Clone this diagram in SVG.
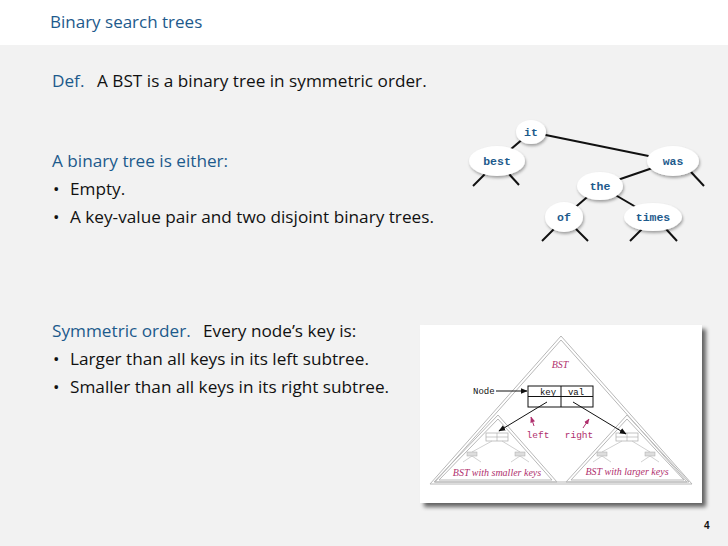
<svg xmlns="http://www.w3.org/2000/svg" width="728" height="546" viewBox="0 0 728 546">
<defs>
<style>
.title{font-family:"Open Sans","Liberation Sans",sans-serif;font-size:17px;fill:#1d5a8c}
.t{font-family:"Open Sans","Liberation Sans",sans-serif;font-size:17.2px;fill:#111}
.b{fill:#1d5a8c}
.key{font-family:"Liberation Mono","DejaVu Sans Mono",monospace;font-size:11.5px;font-weight:bold;fill:#1d5a8c;text-anchor:middle}
.nd{fill:#fff;filter:url(#sh)}
.edge{stroke:#111;stroke-width:2;fill:none}
.mono{font-family:"Liberation Mono","DejaVu Sans Mono",monospace;font-size:9px;fill:#111}
.mag{font-family:"Liberation Mono","DejaVu Sans Mono",monospace;font-size:9.5px;fill:#b0306e;text-anchor:middle}
.it{font-family:"Liberation Serif",serif;font-style:italic;font-size:10px;fill:#b0306e;text-anchor:middle}
.tri{fill:none;stroke:#b8b8b8;stroke-width:1}
.mini{stroke:#c4c4c4;stroke-width:0.8;fill:none}
.minib{fill:#ddd;stroke:#aaa;stroke-width:0.5}
.arr{stroke:#111;stroke-width:1;fill:none;marker-end:url(#ah)}
.marr{stroke:#b0306e;stroke-width:1;fill:none;marker-end:url(#mh)}
</style>
<filter id="sh" x="-30%" y="-30%" width="170%" height="170%">
<feGaussianBlur in="SourceAlpha" stdDeviation="1.5"/>
<feOffset dx="1" dy="2" result="o"/>
<feComponentTransfer><feFuncA type="linear" slope="0.35"/></feComponentTransfer>
<feMerge><feMergeNode/><feMergeNode in="SourceGraphic"/></feMerge>
</filter>
<filter id="psh" x="-5%" y="-5%" width="115%" height="115%">
<feGaussianBlur in="SourceAlpha" stdDeviation="2"/>
<feOffset dx="4" dy="4" result="o"/>
<feComponentTransfer><feFuncA type="linear" slope="0.6"/></feComponentTransfer>
<feMerge><feMergeNode/><feMergeNode in="SourceGraphic"/></feMerge>
</filter>
<marker id="ah" viewBox="0 0 10 10" refX="9" refY="5" markerWidth="7" markerHeight="7" orient="auto"><path d="M0,1 L10,5 L0,9 z" fill="#111"/></marker>
<marker id="mh" viewBox="0 0 10 10" refX="9" refY="5" markerWidth="6" markerHeight="6" orient="auto"><path d="M0,1 L10,5 L0,9 z" fill="#b0306e"/></marker>
</defs>
<rect x="0" y="0" width="728" height="546" fill="#f2f2f2"/>
<rect x="0" y="0" width="728" height="45" fill="#fff"/>
<text class="title" x="50" y="28">Binary search trees</text>

<text class="t" x="52" y="87"><tspan class="b">Def.</tspan><tspan x="97">A BST is a binary tree in symmetric order.</tspan></text>
<text class="t b" x="52" y="167">A binary tree is either:</text>
<text class="t" x="53" y="195">•<tspan x="70">Empty.</tspan></text>
<text class="t" x="53" y="223">•<tspan x="70">A key-value pair and two disjoint binary trees.</tspan></text>
<text class="t" x="52" y="337"><tspan class="b">Symmetric order.</tspan><tspan x="203">Every node’s key is:</tspan></text>
<text class="t" x="53" y="365">•<tspan x="70">Larger than all keys in its left subtree.</tspan></text>
<text class="t" x="53" y="393">•<tspan x="70">Smaller than all keys in its right subtree.</tspan></text>

<g id="connectors">
<line class="edge" x1="531" y1="132" x2="497" y2="161"/>
<line class="edge" x1="531" y1="132" x2="673" y2="161"/>
<line class="edge" x1="673" y1="161" x2="600" y2="186"/>
<line class="edge" x1="600" y1="186" x2="564" y2="217"/>
<line class="edge" x1="600" y1="186" x2="653" y2="217"/>
<line class="edge" x1="485" y1="174" x2="473" y2="186"/>
<line class="edge" x1="509" y1="174" x2="519" y2="185"/>
<line class="edge" x1="691" y1="172" x2="704" y2="186"/>
<line class="edge" x1="554" y1="229" x2="542" y2="241"/>
<line class="edge" x1="576" y1="229" x2="588" y2="241"/>
<line class="edge" x1="642" y1="229" x2="630" y2="241"/>
<line class="edge" x1="666" y1="229" x2="677" y2="241"/>
</g>
<g id="n-it"><ellipse class="nd" cx="531" cy="132" rx="15" ry="12"/><text class="key" x="531" y="136">it</text></g>
<g id="n-best"><ellipse class="nd" cx="497" cy="161" rx="28" ry="15"/><text class="key" x="497" y="165">best</text></g>
<g id="n-was"><ellipse class="nd" cx="673" cy="161" rx="26" ry="15"/><text class="key" x="673" y="165">was</text></g>
<g id="n-the"><ellipse class="nd" cx="600" cy="186" rx="23" ry="14"/><text class="key" x="600" y="190">the</text></g>
<g id="n-of"><ellipse class="nd" cx="564" cy="217" rx="19" ry="15"/><text class="key" x="564" y="221">of</text></g>
<g id="n-times"><ellipse class="nd" cx="653" cy="217" rx="29" ry="14"/><text class="key" x="653" y="221">times</text></g>

<g id="bst-panel">
<rect x="420" y="325" width="282" height="178" fill="#fff" filter="url(#psh)"/>
<path class="tri" d="M561,336 L430,484 L692,484 Z"/>
<path class="tri" d="M561,340 L435,482 L687,482 Z"/>
<path class="tri" d="M498,415 L434,482 L557,482 Z"/>
<path class="tri" d="M498,419 L439,480 L552,480 Z"/>
<path class="tri" d="M627,415 L566,482 L689,482 Z"/>
<path class="tri" d="M627,419 L571,480 L684,480 Z"/>
<text class="it" x="560" y="368">BST</text>
<text class="it" x="497" y="476">BST with smaller keys</text>
<text class="it" x="627" y="475">BST with larger keys</text>
<g id="mini-left">
<rect x="486" y="433" width="22" height="8" fill="#fff" stroke="#aaa" stroke-width="0.7"/>
<line x1="486" y1="437" x2="508" y2="437" stroke="#aaa" stroke-width="0.6"/>
<line x1="497" y1="433" x2="497" y2="441" stroke="#aaa" stroke-width="0.6"/>
<path class="mini" d="M492,441 L472,452 M502,441 L520,452 M472,456 L463,462 M472,456 L481,462 M520,456 L511,462 M520,456 L529,462"/>
<rect class="minib" x="467" y="452" width="10" height="4"/>
<rect class="minib" x="515" y="452" width="10" height="4"/>
</g>
<g id="mini-right">
<rect x="616" y="433" width="22" height="8" fill="#fff" stroke="#aaa" stroke-width="0.7"/>
<line x1="616" y1="437" x2="638" y2="437" stroke="#aaa" stroke-width="0.6"/>
<line x1="627" y1="433" x2="627" y2="441" stroke="#aaa" stroke-width="0.6"/>
<path class="mini" d="M622,441 L602,452 M632,441 L650,452 M602,456 L593,462 M602,456 L611,462 M650,456 L641,462 M650,456 L659,462"/>
<rect class="minib" x="597" y="452" width="10" height="4"/>
<rect class="minib" x="645" y="452" width="10" height="4"/>
</g>
<g id="node-box">
<rect x="528" y="386" width="65" height="21" fill="#fff" stroke="#111" stroke-width="1"/>
<line x1="528" y1="396.5" x2="593" y2="396.5" stroke="#111" stroke-width="1"/>
<line x1="561" y1="386" x2="561" y2="407" stroke="#111" stroke-width="1"/>
<text class="mono" x="548" y="394.5" text-anchor="middle">key</text>
<text class="mono" x="576" y="394.5" text-anchor="middle">val</text>
</g>
<text class="mono" x="473" y="394">Node</text>
<line class="arr" x1="496" y1="391" x2="527" y2="391"/>
<line class="arr" x1="547" y1="402" x2="499" y2="431"/>
<line class="arr" x1="573" y1="402" x2="626" y2="434"/>
<text class="mag" x="538" y="438">left</text>
<text class="mag" x="579" y="438">right</text>
<line class="marr" x1="534" y1="426" x2="531" y2="417"/>
<line class="marr" x1="583" y1="428" x2="589" y2="419"/>
</g>
<text x="704" y="529" font-family="Liberation Sans,sans-serif" font-size="10" font-weight="bold" fill="#111">4</text>
</svg>
